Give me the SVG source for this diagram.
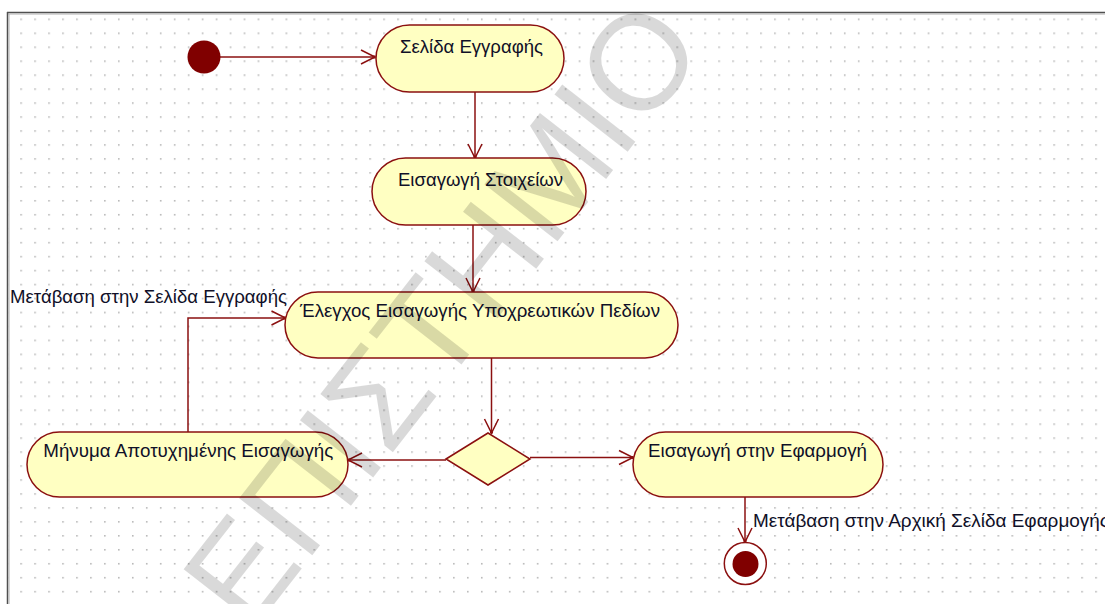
<svg xmlns="http://www.w3.org/2000/svg" width="1105" height="604" viewBox="0 0 1105 604">
<style>
.node rect{fill:#ffffc2;stroke:#8b1010;stroke-width:1.5}
.node text,.lbl{font-family:"Liberation Sans",Arial,sans-serif;font-size:17.5px;fill:#101028}
.node text{text-anchor:middle}
.conn path{fill:none;stroke:#8b1010;stroke-width:1.5;marker-end:url(#arr)}
.wm{font-family:"Liberation Sans",Arial,sans-serif;font-size:135px;fill:#000;fill-opacity:0.15}
</style>
<defs>
<pattern id="grid" patternUnits="userSpaceOnUse" x="20.3" y="18.5" width="13.96" height="13.96">
<rect x="0" y="0" width="1.6" height="1.6" fill="#b8b8b8"/>
</pattern>
<marker id="arr" markerUnits="userSpaceOnUse" markerWidth="20" markerHeight="20" viewBox="-16 -10 20 20" refX="0" refY="0" orient="auto">
<path d="M-14,-7 L0,0 L-14,7" fill="none" stroke="#8b1010" stroke-width="1.5"/>
<rect x="-2.5" y="-1.5" width="3" height="3" fill="#8b1010"/>
</marker>
</defs>
<rect x="0" y="0" width="1105" height="604" fill="#ffffff"/>
<rect x="8" y="13" width="1097" height="591" fill="url(#grid)"/>
<line x1="7" y1="12.5" x2="1105" y2="12.5" stroke="#505050" stroke-width="1.5"/>
<line x1="8" y1="14" x2="1105" y2="14" stroke="#b0b0b0" stroke-width="1"/>
<line x1="7.5" y1="12" x2="7.5" y2="604" stroke="#505050" stroke-width="1.5"/>
<line x1="9" y1="14" x2="9" y2="604" stroke="#b0b0b0" stroke-width="1"/>

<g class="conn" id="connectors">
<path d="M220,57 H375"/>
<path d="M475,92 V158"/>
<path d="M473,225 V292"/>
<path d="M491.5,358 V433"/>
<path d="M530,457.5 H633"/>
<path d="M446,460 H348"/>
<path d="M188,432 V318 H285.5"/>
<path d="M745,497 V542"/>
</g>
<text class="lbl" x="10" y="303" textLength="277" lengthAdjust="spacingAndGlyphs">Μετάβαση στην Σελίδα Εγγραφής</text>
<text class="lbl" x="753" y="527" textLength="356" lengthAdjust="spacingAndGlyphs">Μετάβαση στην Αρχική Σελίδα Εφαρμογής</text>

<g id="start">
<circle cx="204" cy="57" r="16.5" fill="#800000"/>
</g>
<g class="node" id="n1">
<rect x="376" y="25" width="188" height="67" rx="33.5"/>
<text x="471.5" y="53" textLength="143" lengthAdjust="spacingAndGlyphs">Σελίδα Εγγραφής</text>
</g>
<g class="node" id="n2">
<rect x="372" y="158" width="214" height="67" rx="33.5"/>
<text x="480.5" y="185.5" textLength="165" lengthAdjust="spacingAndGlyphs">Εισαγωγή Στοιχείων</text>
</g>
<g class="node" id="n3">
<rect x="285" y="292" width="393" height="66" rx="33"/>
<text x="480" y="317" textLength="360" lengthAdjust="spacingAndGlyphs">Έλεγχος Εισαγωγής Υποχρεωτικών Πεδίων</text>
</g>
<g id="decision">
<polygon points="446,459 488,433 530,459 488,485" fill="#ffffc2" stroke="#8b1010" stroke-width="1.5"/>
</g>
<g class="node" id="n4">
<rect x="27" y="432" width="321" height="65" rx="32.5"/>
<text x="188.3" y="457" textLength="290" lengthAdjust="spacingAndGlyphs">Μήνυμα Αποτυχημένης Εισαγωγής</text>
</g>
<g class="node" id="n5">
<rect x="633" y="432" width="250" height="65" rx="32.5"/>
<text x="757.5" y="457" textLength="219" lengthAdjust="spacingAndGlyphs">Εισαγωγή στην Εφαρμογή</text>
</g>
<g id="end">
<circle cx="745.3" cy="563.5" r="21" fill="#ffffff" stroke="#8b1010" stroke-width="1.5"/>
<circle cx="745.5" cy="564" r="13" fill="#800000"/>
</g>

<text class="wm" transform="translate(250,635) rotate(-52)">ΕΠΙΣΤΗΜΙΟ</text>
</svg>
